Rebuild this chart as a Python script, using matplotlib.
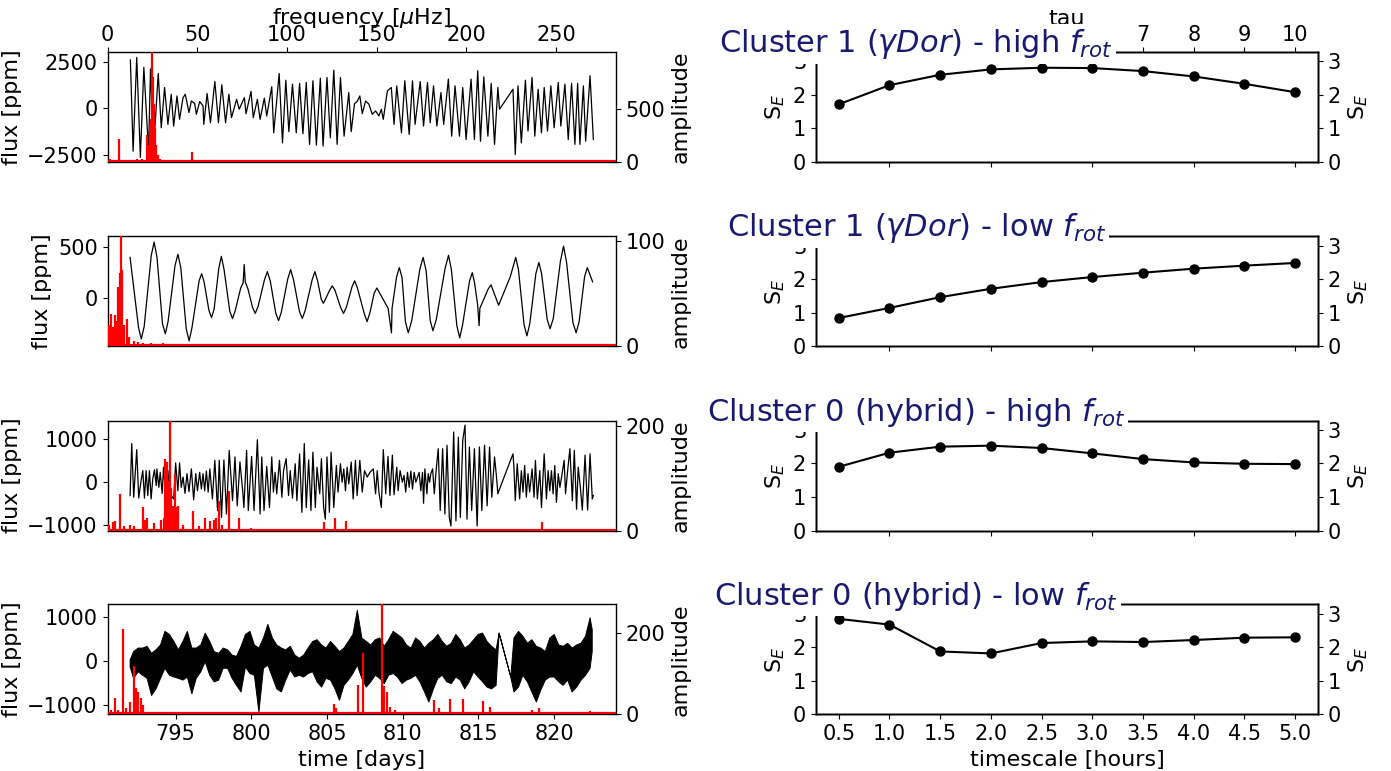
import numpy as np
import matplotlib
matplotlib.use("Agg")
import matplotlib.pyplot as plt

plt.rcParams['font.family'] = ['DejaVu Sans']
plt.rcParams['font.size'] = 15
plt.rcParams['axes.labelsize'] = 16
plt.rcParams['axes.linewidth'] = 1.0

# ---- light curves (time [days], flux [ppm]) ----
lc1_t = [792.01, 792.19, 792.43, 792.67, 792.90, 793.21, 793.34, 793.54, 793.85, 794.05,
         794.27, 794.49, 794.71, 794.87, 795.09, 795.26, 795.49, 795.64, 795.88, 796.04,
         796.26, 796.37, 796.59, 796.81, 796.86, 797.08, 797.30, 797.59, 797.83, 798.05,
         798.30, 798.52, 798.69, 799.03, 799.20, 799.54, 799.65, 799.98, 800.13, 800.40,
         800.58, 800.86, 801.02, 801.35, 801.48, 801.84, 802.06, 802.28, 802.48, 802.72,
         802.97, 803.19, 803.41, 803.63, 803.85, 804.07, 804.30, 804.56, 804.74, 805.00,
         805.22, 805.45, 805.67, 805.89, 806.13, 806.44, 806.60, 806.82, 806.99, 807.17,
         807.33, 807.55, 807.77,
         807.99, 808.21, 808.43, 808.59, 808.72, 808.99, 809.25, 809.43, 809.61, 809.92,
         810.14, 810.43, 810.65, 810.82, 811.16, 811.38, 811.64, 811.82, 812.04, 812.26,
         812.53, 812.71, 813.02, 813.24, 813.46, 813.75, 813.97, 814.19, 814.52, 814.74,
         814.96, 815.14, 815.36, 815.63, 815.85, 816.07, 816.29, 816.40, 817.29, 817.44,
         817.62, 817.84, 818.11, 818.28, 818.55, 818.73, 818.95, 819.17, 819.35, 819.57,
         819.79, 820.01, 820.28, 820.45, 820.72, 820.94, 821.16, 821.38, 821.56, 821.71,
         821.94, 822.09, 822.38, 822.60]
lc1_f = [2580, -2290, 2720, -2620, 2190, -2290, 2100, -2260, 1860, -1040,
         1110, -860, 750, -950, 660, -590, 570, 750, -230, 390,
         250, -320, 360, 130, -860, 790, -770, 1430, -770, 1250,
         -770, 750, -500, 480, -50, 570, -290, 900, -500, 480,
         -590, 540, -410, 1150, -1310, 1860, -1850, 1500, -1250, 1290,
         -1310, 1330, -1360, 1380, -1930, 1470, -1970, 1610, -2020, 1650,
         -1580, 2040, -1930, 1650, -1490, 840, -1250, 250, 360, 660,
         -290, 390, 220,
         -320, -140, -410, -50, -590, 930, 1110, -860, 1200, -1310,
         1470, -1400, 1470, -860, 1430, -950, 1380, -770, 1200, -950,
         840, -860, 1560, -1490, 1200, -1490, 1110, -1670, 1560, -1670,
         2010, -1760, 1680, -1490, 1330, -1930, 1110, -50, 1020, -2470,
         1200, -1850, 1500, -1220, 1650, -1490, 1020, -1310, 1110, -1220,
         1200, -1040, 1380, -950, 1290, -1670, 1330, -1930, 1330, -1930,
         1200, -1760, 1740, -1670]

lc2 = [(791.99, 400), (792.55, -290), (792.73, -400), (792.92, -280), (793.39, 420),
       (793.58, 550), (793.77, 400), (794.13, -250), (794.32, -350), (794.50, -230),
       (794.96, 320), (795.15, 430), (795.34, 300), (795.70, -300), (795.89, -420),
       (796.08, -290), (796.55, 170), (796.72, 240), (796.88, 160), (797.20, -120),
       (797.37, -190), (797.54, -110), (797.85, 290), (798.02, 410), (798.20, 280),
       (798.58, -130), (798.76, -200), (798.94, -120), (799.30, 100), (799.46, 150),
       (799.53, 330), (799.60, 160), (799.78, 90), (800.08, -90), (800.26, -150),
       (800.45, -80), (800.87, 180), (801.06, 260), (801.25, 170), (801.62, -150),
       (801.80, -220), (801.98, -140), (802.41, 190), (802.60, 280), (802.79, 180),
       (803.18, -130), (803.37, -200), (803.56, -120), (804.02, 180), (804.20, 260),
       (804.38, 170), (804.62, -10), (804.76, -50), (804.90, -10), (805.18, 80),
       (805.35, 120), (805.52, 80), (805.90, -90), (806.09, -150), (806.28, -90),
       (806.65, 110), (806.83, 170), (807.01, 100), (807.46, -150), (807.65, -230),
       (807.84, -140), (808.12, 50), (808.30, 100), (808.48, 50), (809.04, -100),
       (809.26, -340), (809.30, -100), (809.60, 210), (809.78, 300), (809.96, 200),
       (810.18, -230), (810.37, -340), (810.60, -220), (811.13, 280), (811.35, 400),
       (811.55, 270), (811.82, -220), (812.00, -320), (812.22, -210), (812.80, 290),
       (813.03, 420), (813.22, 280), (813.58, -270), (813.77, -390), (813.96, -260),
       (814.42, 170), (814.60, 250), (814.75, 150), (814.95, -60), (815.05, -270),
       (815.10, -100), (815.65, 90), (815.84, 130), (816.34, -70), (817.11, 210),
       (817.47, 400), (817.65, 280), (818.02, -260), (818.21, -370), (818.40, -250),
       (818.80, 240), (819.00, 350), (819.18, 240), (819.55, -210), (819.74, -300),
       (819.95, -200), (820.42, 360), (820.63, 510), (820.83, 350), (821.25, -240),
       (821.46, -340), (821.66, -230), (822.02, 210), (822.20, 300), (822.55, 160)]

lc3 = [(791.99, -310), (792.10, 900), (792.23, -350), (792.43, 760), (792.56, -370),
       (792.72, 40), (792.83, 270), (792.94, -370), (793.05, 270), (793.16, -310),
       (793.27, 270), (793.38, -390), (793.49, 80), (793.60, 290), (793.72, -80),
       (793.76, 310), (793.89, -120), (793.98, 230), (794.11, -260), (794.20, 350),
       (794.33, -270), (794.49, 270), (794.60, -230), (794.78, -350), (794.87, -390),
       (795.00, 450), (795.15, -200), (795.26, 450), (795.37, -120), (795.49, 120),
       (795.62, -260), (795.75, 200), (795.88, -220), (796.04, 310), (796.19, -410),
       (796.33, 200), (796.44, -200), (796.59, 230), (796.70, -160), (796.81, 200),
       (796.92, -200), (797.03, 260), (797.15, -230), (797.26, 310), (797.43, -390),
       (797.59, 510), (797.77, -660), (797.88, 510), (798.03, -820), (798.19, 520),
       (798.36, -740), (798.54, 740), (798.76, -430), (798.92, 590), (799.07, -550),
       (799.25, 470), (799.43, -200), (799.51, -590), (799.69, 740), (799.80, -660),
       (800.02, 600), (800.18, -660), (800.40, 990), (800.58, -740), (800.69, 590),
       (800.84, -660), (801.02, 370), (801.20, -590), (801.35, 590), (801.46, -230),
       (801.57, 230), (801.68, -270), (801.86, 510), (802.02, -350), (802.13, 270),
       (802.30, 550), (802.46, -310), (802.57, 270), (802.72, -370), (802.90, 430),
       (803.01, -430), (803.19, 660), (803.34, -700), (803.50, 900), (803.63, -590),
       (803.79, 520), (803.94, -660), (804.07, 700), (804.23, -590), (804.34, 350),
       (804.52, -270), (804.63, 550), (804.78, -590), (804.89, -860), (805.00, 590),
       (805.16, -700), (805.27, 700), (805.45, -590), (805.62, 390), (805.73, -230),
       (805.89, 430), (806.00, 0), (806.11, 310), (806.22, -200), (806.33, 350),
       (806.44, -40), (806.60, 470), (806.73, -390), (806.88, 510), (806.99, -310),
       (807.17, 510), (807.33, -230), (807.48, 270), (807.66, 120), (807.84, 230),
       (808.06, 310), (808.21, -270), (808.32, 270), (808.43, -230), (808.59, -590),
       (808.72, 760), (808.88, -270), (809.03, 600), (809.16, -310), (809.32, 630),
       (809.43, -290), (809.61, 350), (809.70, -200), (809.83, 270), (809.98, 0),
       (810.09, 160), (810.20, -230), (810.32, 230), (810.43, -120), (810.54, 260),
       (810.65, -160), (810.76, 230), (810.87, 0), (811.09, 230), (811.20, -200),
       (811.31, 230), (811.38, -490), (811.47, 310), (811.60, -270), (811.69, 200),
       (811.78, 0), (811.86, 200), (811.98, 310), (812.09, -270), (812.20, 230),
       (812.35, 780), (812.48, -660), (812.64, 780), (812.79, -740), (812.93, 860),
       (813.08, -820), (813.19, -1020), (813.37, 1170), (813.52, -900), (813.68, 1050),
       (813.81, -820), (813.97, 980), (814.12, 1330), (814.25, -860), (814.41, 820),
       (814.56, -660), (814.74, 780), (814.92, -1020), (815.07, 820), (815.23, -660),
       (815.41, 860), (815.58, -550), (815.74, 820), (815.89, -350), (816.07, 590),
       (816.20, 120), (816.29, -270), (816.40, -160), (817.29, 660), (817.35, 350),
       (817.44, -430), (817.57, 430), (817.73, -390), (817.84, 270), (817.95, -230),
       (818.06, 390), (818.17, -350), (818.28, 200), (818.39, -230), (818.55, 310),
       (818.68, -350), (818.77, 510), (818.90, -390), (819.06, 270), (819.17, -590),
       (819.35, 660), (819.50, -390), (819.61, 270), (819.72, -200), (819.83, 270),
       (819.94, -270), (820.05, 390), (820.16, -470), (820.28, 200), (820.39, -120),
       (820.50, 120), (820.67, 510), (820.76, -270), (820.90, 270), (821.05, 780),
       (821.21, -430), (821.34, 740), (821.49, -630), (821.60, 350), (821.74, -120),
       (821.87, -650), (822.05, 630), (822.22, -650), (822.38, 660), (822.53, -390),
       (822.60, -310)]

# noisy light curve of the last star: (time, low, high) edges of the black band
lc4 = [(791.96, -120, 40), (792.19, -380, 230), (792.49, -230, 310), (792.79, -310, 310),
       (793.08, -380, 350), (793.38, -770, 190), (793.67, -620, 270), (793.97, -380, 380),
       (794.26, -150, 690), (794.56, -310, 620), (794.85, -350, 460), (795.15, -380, 270),
       (795.45, -420, 460), (795.74, -350, 690), (796.04, -730, 310), (796.33, -380, 310),
       (796.63, -230, 380), (796.92, 0, 650), (797.22, -310, 460), (797.51, -460, 230),
       (797.81, -420, 190), (798.11, -150, 310), (798.40, -150, 270), (798.70, -380, 150),
       (798.99, -540, 120), (799.29, -690, 350), (799.58, -120, 620), (799.88, -270, 690),
       (800.17, -310, 380), (800.47, -1150, 310), (800.77, -150, 540), (801.06, -80, 850),
       (801.36, -350, 540), (801.65, -620, 380), (801.95, -690, 310), (802.24, -420, 270),
       (802.54, -190, 350), (802.84, -350, 150), (803.13, -310, 80), (803.43, -350, 150),
       (803.72, -270, 310), (804.02, -230, 460), (804.31, -460, 500), (804.61, -580, 380),
       (804.90, -380, 310), (805.20, -420, 460), (805.50, -620, 350), (805.79, -880, 230),
       (806.09, -540, 310), (806.38, -420, 460), (806.68, -270, 620), (806.97, -80, 1170),
       (807.27, -380, 540), (807.56, -580, 460), (807.86, -460, 380), (808.16, -310, 500),
       (808.45, -380, 540), (808.75, -500, 350), (809.04, -310, 500), (809.34, -270, 690),
       (809.63, -350, 620), (809.93, -500, 540), (810.22, -420, 380), (810.52, -380, 310),
       (810.82, -310, 540), (811.11, -460, 460), (811.41, -690, 310), (811.70, -920, 420),
       (812.00, -620, 500), (812.29, -380, 620), (812.59, -310, 460), (812.88, -460, 350),
       (813.18, -500, 420), (813.48, -350, 620), (813.77, -420, 500), (814.07, -620, 310),
       (814.36, -460, 380), (814.66, -230, 500), (814.95, -350, 620), (815.25, -460, 650),
       (815.54, -580, 460), (815.84, -620, 350), (816.14, -540, 270), (816.34, 650, 650),
       (817.11, -350, -350), (817.32, -690, 540), (817.62, -580, 690), (817.91, -310, 580),
       (818.21, -460, 420), (818.50, -690, 500), (818.80, -920, 350), (819.09, -650, 310),
       (819.39, -420, 230), (819.69, -350, 540), (819.98, -350, 620), (820.28, -460, 380),
       (820.57, -540, 350), (820.87, -420, 420), (821.16, -690, 310), (821.46, -580, 380),
       (821.75, -420, 420), (822.05, -310, 580), (822.35, -150, 1000), (822.49, 230, 730)]

# ---- periodograms (frequency [uHz], amplitude) ----
sp1_f = [1.5, 3.0, 4.5, 6.5, 8.5, 10.8, 12.5, 14.5, 16.5, 19.1,
         20.1, 21.9, 22.9, 23.8, 24.3, 24.9, 25.5, 26.0, 26.6, 27.1,
         27.9, 29.5, 32.0, 35.0, 38.5, 42.0, 47.0, 48.9, 52.0, 56.0]
sp1_a = [25, 15, 20, 217, 12, 10, 15, 16, 25, 32,
         16, 249, 160, 294, 399, 1031, 798, 543, 319, 160,
         64, 30, 20, 18, 15, 12, 96, 16, 10, 8]
sp2_f = [1.0, 2.2, 3.2, 4.2, 5.2, 6.0, 6.7, 7.2, 7.7, 8.2,
         9.2, 10.9, 12.2, 14.6, 17.0, 20.0, 24.0, 30.8]
sp2_a = [20, 31, 18, 30, 24, 56, 54, 69, 104, 72,
         20, 26, 9, 5, 4, 3, 3, 3]
sp3_f = [1.1, 3.3, 4.3, 6.7, 9.0, 12.6, 15.0, 19.7, 21.0, 21.9,
         25.7, 29.7, 31.2, 32.3, 33.1, 33.6, 34.2, 34.8, 35.3, 35.9,
         36.4, 37.4, 38.3, 39.4, 42.0, 47.6, 51.0, 54.5, 57.2, 59.1,
         60.4, 61.9, 64.0, 67.5, 73.0, 80.0, 120.4, 127.0, 132.9, 242.0]
sp3_a = [11, 17, 19, 70, 8, 10, 8, 45, 21, 23,
         14, 21, 23, 137, 130, 95, 64, 210, 82, 47,
         47, 108, 45, 47, 10, 37, 8, 23, 19, 21,
         23, 56, 10, 76, 23, 5, 17, 23, 19, 16]
sp4_f = [2.0, 4.2, 6.0, 8.4, 10.5, 12.7, 14.6, 15.9, 17.1, 18.4,
         19.6, 24.6, 40.0, 75.0, 126.3, 127.6, 139.4, 142.5, 152.9, 154.1,
         155.6, 157.4, 160.0, 182.2, 185.0, 190.9, 198.3, 209.5, 213.2, 236.8,
         240.5, 269.0]
sp4_a = [12, 40, 10, 209, 15, 31, 118, 64, 56, 40,
         23, 5, 4, 3, 26, 15, 73, 150, 269, 69,
         56, 19, 10, 36, 15, 38, 38, 33, 19, 11,
         17, 9]

flux_lims = [(-2870, 3010), (-474, 605), (-1125, 1437), (-1215, 1292)]
flux_ticks = [[-2500, 0, 2500], [0, 500], [-1000, 0, 1000], [-1000, 0, 1000]]
amp_ticks = [[0, 500], [0, 100], [0, 200], [0, 200]]
time_ticks = [795, 800, 805, 810, 815, 820]
freq_ticks = [0, 50, 100, 150, 200, 250]

# ---- sample entropy curves ----
timescale = [0.5, 1.0, 1.5, 2.0, 2.5, 3.0, 3.5, 4.0, 4.5, 5.0]
tau = [1, 2, 3, 4, 5, 6, 7, 8, 9, 10]
se_gdor_high = [1.72, 2.29, 2.60, 2.76, 2.81, 2.80, 2.71, 2.55, 2.33, 2.08]
se_gdor_low = [0.85, 1.15, 1.47, 1.72, 1.92, 2.07, 2.20, 2.32, 2.41, 2.49]
se_hyb_high = [1.90, 2.32, 2.50, 2.53, 2.46, 2.30, 2.13, 2.03, 1.99, 1.98]
se_hyb_low = [2.85, 2.68, 1.88, 1.82, 2.13, 2.18, 2.16, 2.22, 2.29, 2.30]
titles = [r"Cluster 1 ($\gamma Dor$) - high $f_{rot}$",
          r"Cluster 1 ($\gamma Dor$) - low $f_{rot}$",
          r"Cluster 0 (hybrid) - high $f_{rot}$",
          r"Cluster 0 (hybrid) - low $f_{rot}$"]

fig = plt.figure(figsize=(13.91, 7.71), dpi=100)

bottoms = [0.7899, 0.5506, 0.3119, 0.0733]
height = 0.1427
left_x, left_w = 0.0773, 0.3656
right_x, right_w = 0.5866, 0.3609

spectra = [(sp1_f, sp1_a), (sp2_f, sp2_a), (sp3_f, sp3_a), (sp4_f, sp4_a)]
se_all = [se_gdor_high, se_gdor_low, se_hyb_high, se_hyb_low]

for i in range(4):
    pos = [left_x, bottoms[i], left_w, height]
    ax = fig.add_axes(pos)
    if i == 0:
        ax.plot(lc1_t, lc1_f, color='black', lw=0.9)
    elif i == 1:
        t2, f2 = zip(*lc2)
        ax.plot(t2, f2, color='black', lw=0.9)
    elif i == 2:
        t3, f3 = zip(*lc3)
        ax.plot(t3, f3, color='black', lw=0.9)
    else:
        t4, lo4, hi4 = zip(*lc4)
        ax.fill_between(t4, lo4, hi4, facecolor='black', edgecolor='black', lw=0.7)
    ax.set_xlim(790.5, 824.1)
    ax.set_ylim(*flux_lims[i])
    ax.set_yticks(flux_ticks[i])
    ax.set_ylabel('flux [ppm]')
    if i < 3:
        ax.tick_params(axis='x', bottom=False, labelbottom=False)
    else:
        ax.set_xticks(time_ticks)
        ax.set_xlabel('time [days]')

    # periodogram on its own axes (frequency on top, amplitude on the right)
    ax2 = fig.add_axes(pos, facecolor='none')
    fr, am = spectra[i]
    ax2.vlines(fr, 0, am, color='red', lw=1.6)
    ax2.axhline(0, color='red', lw=3)
    ax2.set_xlim(0, 283.4)
    ax2.set_ylim(0, max(am))
    ax2.yaxis.tick_right()
    ax2.yaxis.set_label_position('right')
    ax2.set_yticks(amp_ticks[i])
    ax2.set_ylabel('amplitude')
    ax2.xaxis.tick_top()
    ax2.xaxis.set_label_position('top')
    if i == 0:
        ax2.set_xticks(freq_ticks)
        ax2.tick_params(axis='x', pad=1.5)
        ax2.set_xlabel(r'frequency [$\mu$Hz]', labelpad=1)
    else:
        ax2.tick_params(axis='x', top=False, labeltop=False)
    for sp in ax2.spines.values():
        sp.set_visible(False)

    # sample entropy panel
    rpos = [right_x, bottoms[i], right_w, height]
    bx = fig.add_axes(rpos)
    bx.plot(timescale, se_all[i], color='black', lw=1.5, marker='o', ms=6.5)
    bx.set_xlim(0.275, 5.225)
    bx.set_ylim(0, 3.28)
    bx.set_yticks([0, 1, 2, 3])
    bx.set_ylabel('S$_E$')
    if i < 3:
        bx.tick_params(axis='x', bottom=False, labelbottom=False)
    else:
        bx.set_xticks(timescale)
        bx.set_xlabel('timescale [hours]')
    br = bx.twinx()
    br.set_ylim(0, 3.28)
    br.set_yticks([0, 1, 2, 3])
    br.set_ylabel('S$_E$')
    bt = bx.twiny()
    bt.set_xlim(0.55, 10.45)
    if i == 0:
        # labels 1-6 sit under the title box in the original
        bt.set_xticks(tau)
        bt.set_xticklabels([str(v) if v >= 7 else '' for v in tau])
        bt.tick_params(axis='x', pad=1.5)
        bt.set_xlabel('tau', labelpad=0)
    else:
        bt.tick_params(axis='x', top=False, labeltop=False)

    fig.text(0.2, 1.073, titles[i], transform=bx.transAxes, ha='center', va='center',
             fontsize=22, color='midnightblue', zorder=10,
             bbox=dict(facecolor='white', edgecolor='none', pad=2))

fig.savefig('out.png', dpi=100)
